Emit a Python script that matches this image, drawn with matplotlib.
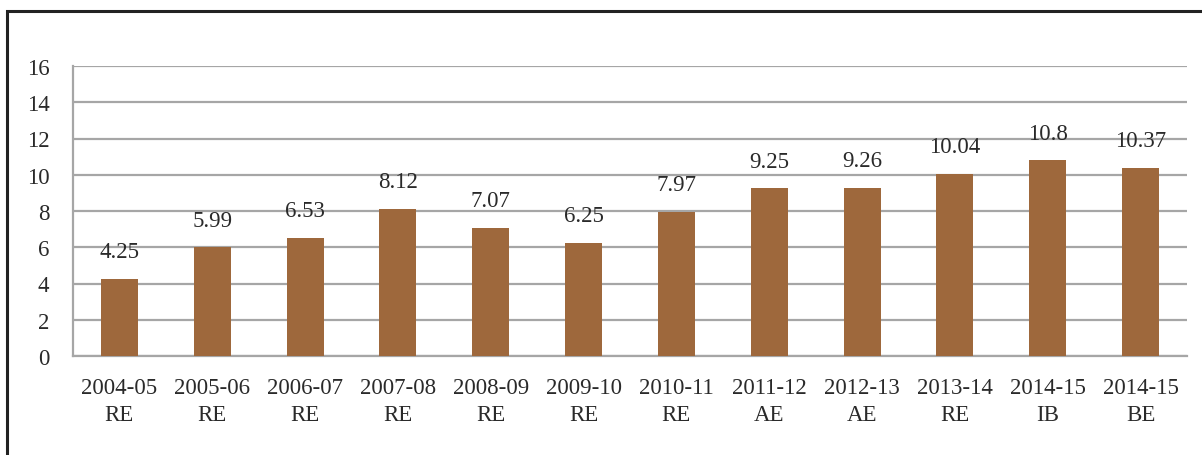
import matplotlib.pyplot as plt
from matplotlib.patches import Rectangle

years = ['2004-05', '2005-06', '2006-07', '2007-08', '2008-09', '2009-10',
         '2010-11', '2011-12', '2012-13', '2013-14', '2014-15', '2014-15']
stages = ['RE', 'RE', 'RE', 'RE', 'RE', 'RE', 'RE', 'AE', 'AE', 'RE', 'IB', 'BE']
values = [4.25, 5.99, 6.53, 8.12, 7.07, 6.25, 7.97, 9.25, 9.26, 10.04, 10.8, 10.37]
value_labels = ['4.25', '5.99', '6.53', '8.12', '7.07', '6.25', '7.97', '9.25',
                '9.26', '10.04', '10.8', '10.37']
yticks = [0, 2, 4, 6, 8, 10, 12, 14, 16]

plt.rcParams['font.family'] = ['Liberation Serif', 'DejaVu Serif']

fig = plt.figure(figsize=(12.02, 4.56), dpi=100)
ax = fig.add_axes([73 / 1202, 1 - 357 / 456, (1187 - 73) / 1202, 290 / 456])

labels = [y + '\n' + s for y, s in zip(years, stages)]
x = list(range(len(values)))
bars = ax.bar(x, values, width=0.4, color='#9e683c', zorder=3)

for xi, v, t in zip(x, values, value_labels):
    ax.annotate(t, (xi, v), xytext=(0, 12), textcoords='offset points',
                ha='center', va='bottom', fontsize=16.5, color='#2a2a2a')

ax.set_xlim(-0.5, len(values) - 0.5)
ax.set_ylim(0, 16)
ax.set_yticks(yticks)
ax.set_xticks(x)
ax.set_xticklabels(labels, fontsize=16.5, color='#2a2a2a', linespacing=1.4)
ax.tick_params(axis='x', length=0, pad=15)
ax.tick_params(axis='y', length=0, pad=17, labelsize=16.5, labelcolor='#2a2a2a')
ax.grid(axis='y', color='#a6a6a6', linewidth=1.6, zorder=0)

for side in ['top', 'right']:
    ax.spines[side].set_visible(False)
ax.spines['left'].set_color('#a6a6a6')
ax.spines['left'].set_linewidth(1.6)
ax.spines['bottom'].set_color('#a6a6a6')
ax.spines['bottom'].set_linewidth(1.6)

# outer frame, cut off at right and bottom
frame = Rectangle((6.5 / 1202, -0.2), 1.2, 1 - 11.5 / 456 + 0.2,
                  transform=fig.transFigure, fill=False, edgecolor='#222222',
                  linewidth=2.2, clip_on=False)
fig.patches.append(frame)

fig.savefig('out.png', dpi=100)
